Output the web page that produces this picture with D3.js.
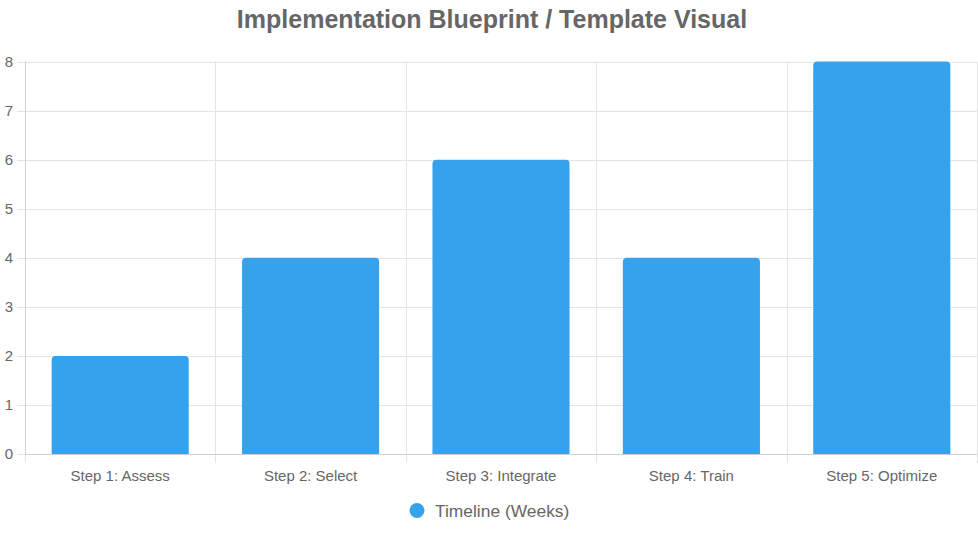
<!DOCTYPE html>
<html><head><meta charset="utf-8">
<script src="https://cdn.jsdelivr.net/npm/d3@7"></script>
<style>body{margin:0;background:#fff}svg{display:block;font-family:"Liberation Sans",Arial,Helvetica,sans-serif}</style>
</head><body>
<svg id="c" width="978" height="533"></svg>
<script>
const categories = ["Step 1: Assess","Step 2: Select","Step 3: Integrate","Step 4: Train","Step 5: Optimize"];
const values = [2,4,6,4,8];
const yTicks = [0,1,2,3,4,5,6,7,8];
const seriesName = "Timeline (Weeks)";
const title = "Implementation Blueprint / Template Visual";

(function(){
const svg = d3.select("#c");
const pLeft = 25, pRight = 977, pTop = 61.5, pBottom = 454;
const grid = "#e4e4e4", txt = "#666", barColor = "#36A2EB";

const x = d3.scaleBand().domain(categories).range([pLeft, pRight]).paddingInner(0).paddingOuter(0);
const y = d3.scaleLinear().domain([0, 8]).range([pBottom, pTop]);

svg.append("g").selectAll("line").data(yTicks).join("line")
  .attr("x1", pLeft - 8).attr("x2", pRight)
  .attr("y1", d => Math.round(y(d)) + 0.5).attr("y2", d => Math.round(y(d)) + 0.5)
  .attr("stroke", grid).attr("stroke-width", 1);
const vx = categories.map(c => x(c)).concat([pRight]);
svg.append("g").selectAll("line").data(vx).join("line")
  .attr("x1", d => Math.round(d) + 0.5).attr("x2", d => Math.round(d) + 0.5)
  .attr("y1", pTop).attr("y2", pBottom + 9)
  .attr("stroke", grid).attr("stroke-width", 1);
svg.append("line").attr("x1", pLeft).attr("x2", pRight).attr("y1", Math.round(pBottom)+0.5).attr("y2", Math.round(pBottom)+0.5).attr("stroke", "#d0d0d0");
svg.append("line").attr("x1", pLeft+0.5).attr("x2", pLeft+0.5).attr("y1", pTop).attr("y2", pBottom).attr("stroke", "#d0d0d0");

svg.append("g").selectAll("text").data(yTicks).join("text")
  .attr("x", 13).attr("y", d => y(d)).attr("dy", "0.35em")
  .attr("text-anchor", "end").attr("font-size", 15).attr("fill", txt).text(d => d);

svg.append("g").selectAll("text").data(categories).join("text")
  .attr("x", d => x(d) + x.bandwidth()/2).attr("y", 476).attr("dy", "0.35em")
  .attr("text-anchor", "middle").attr("font-size", 15).attr("fill", txt).text(d => d);

const bw = x.bandwidth() * 0.72, r = 4;
function barPath(x0, y0, w, h) {
  return `M${x0},${y0+h} L${x0},${y0+r} Q${x0},${y0} ${x0+r},${y0} L${x0+w-r},${y0} Q${x0+w},${y0} ${x0+w},${y0+r} L${x0+w},${y0+h} Z`;
}
svg.append("g").selectAll("path").data(values).join("path")
  .attr("d", (d, i) => {
    const cx = x(categories[i]) + x.bandwidth()/2;
    return barPath(cx - bw/2, y(d), bw, y(0) - y(d));
  })
  .attr("fill", barColor);

svg.append("text").attr("x", 492).attr("y", 19).attr("dy", "0.35em")
  .attr("text-anchor", "middle").attr("font-size", 25).attr("font-weight", "bold")
  .attr("fill", txt).text(title);

const lg = svg.append("g");
lg.append("circle").attr("cx", 417).attr("cy", 510.5).attr("r", 7.5).attr("fill", barColor);
lg.append("text").attr("x", 435).attr("y", 510.5).attr("dy", "0.35em")
  .attr("font-size", 17.4).attr("fill", txt).text(seriesName);
})();
</script>
</body></html>
